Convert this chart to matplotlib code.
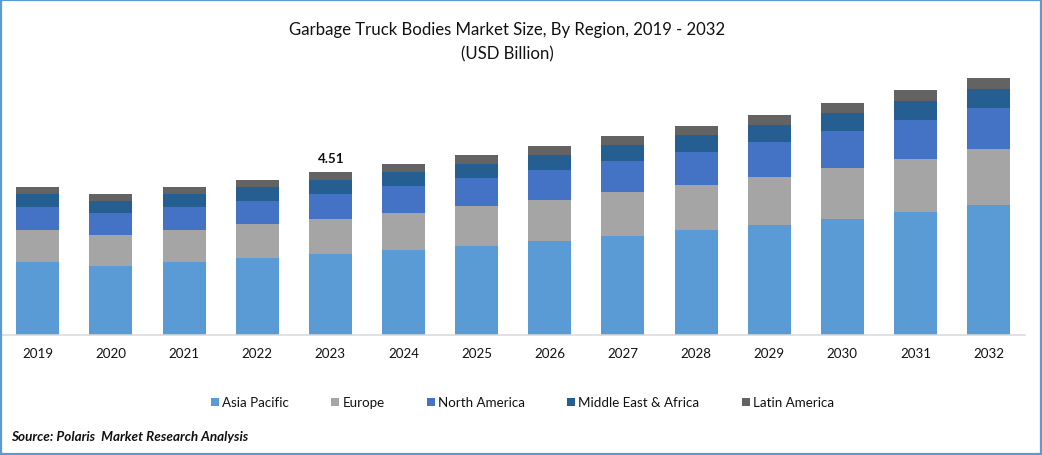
import matplotlib
matplotlib.use("Agg")
import matplotlib.pyplot as plt
from matplotlib.patches import Rectangle

years = [2019, 2020, 2021, 2022, 2023, 2024, 2025, 2026, 2027, 2028, 2029, 2030, 2031, 2032]
asia_pacific = [2.02, 1.91, 2.02, 2.13, 2.24, 2.35, 2.46, 2.60, 2.74, 2.91, 3.04, 3.21, 3.40, 3.60]
europe = [0.89, 0.86, 0.89, 0.94, 0.97, 1.02, 1.11, 1.13, 1.22, 1.25, 1.33, 1.41, 1.47, 1.55]
north_america = [0.64, 0.61, 0.64, 0.64, 0.69, 0.75, 0.77, 0.83, 0.86, 0.91, 0.97, 1.02, 1.08, 1.13]
middle_east_africa = [0.36, 0.33, 0.36, 0.39, 0.39, 0.39, 0.39, 0.42, 0.44, 0.47, 0.47, 0.50, 0.53, 0.53]
latin_america = [0.19, 0.19, 0.19, 0.19, 0.22, 0.22, 0.25, 0.25, 0.25, 0.25, 0.28, 0.28, 0.30, 0.30]

series = [
    ("Asia Pacific", asia_pacific, "#5B9BD5"),
    ("Europe", europe, "#A5A5A5"),
    ("North America", north_america, "#4472C4"),
    ("Middle East & Africa", middle_east_africa, "#255E91"),
    ("Latin America", latin_america, "#636363"),
]

W, H = 1042, 456
plt.rcParams["font.family"] = ["Lato", "DejaVu Sans"]
fig = plt.figure(figsize=(W / 100, H / 100), dpi=100, facecolor="white")
left, right, top, base = 1.2, 1025.2, 61, 336
ax = fig.add_axes([left / W, 1 - base / H, (right - left) / W, (base - top) / H])

pos = list(range(len(years)))
bottom = [0.0] * len(years)
for name, vals, col in series:
    ax.bar(pos, vals, 0.588, bottom=bottom, color=col, label=name, linewidth=0)
    bottom = [b + v for b, v in zip(bottom, vals)]

ax.set_xlim(-0.5, 13.5)
ax.set_ylim(0, (base - top) * 4.51 / 163)
ax.set_xticks(pos)
ax.set_xticklabels([str(y) for y in years], fontsize=9.6, color="#111111")
ax.set_yticks([])
ax.tick_params(axis="x", length=0, pad=8.8)
for s in ["top", "left", "right"]:
    ax.spines[s].set_visible(False)
ax.spines["bottom"].set_color("#D9D9D9")
ax.spines["bottom"].set_linewidth(1.1)

ax.text(4.01, bottom[4] + 0.22, "4.51", ha="center", va="bottom", fontsize=9.6,
        fontweight="bold", color="#111111")

fig.suptitle("Garbage Truck Bodies Market Size, By Region, 2019 - 2032\n(USD Billion)",
             x=507 / W, y=1 - 21.5 / H, va="top", ha="center", fontsize=12.07, linespacing=1.7,
             color="#111111")

fig.legend(*ax.get_legend_handles_labels(), loc="center", ncol=5,
           bbox_to_anchor=(522.5 / W, 1 - 403.5 / H), frameon=False, fontsize=9.6,
           handlelength=0.6, handleheight=0.6, handletextpad=0.23, columnspacing=3.18,
           labelcolor="#111111", borderpad=0, borderaxespad=0)

fig.text(11 / W, 1 - 437.5 / H, "Source: Polaris  Market Research Analysis", ha="left", va="center",
         fontsize=9.7, fontweight="bold", fontstyle="italic", color="#111111")

fig.add_artist(Rectangle((1 / W, 1 / H), (W - 2) / W, (H - 2) / H, transform=fig.transFigure,
                         fill=False, edgecolor="#5B9BD5", linewidth=1.6))

fig.savefig("out.png", dpi=100)
